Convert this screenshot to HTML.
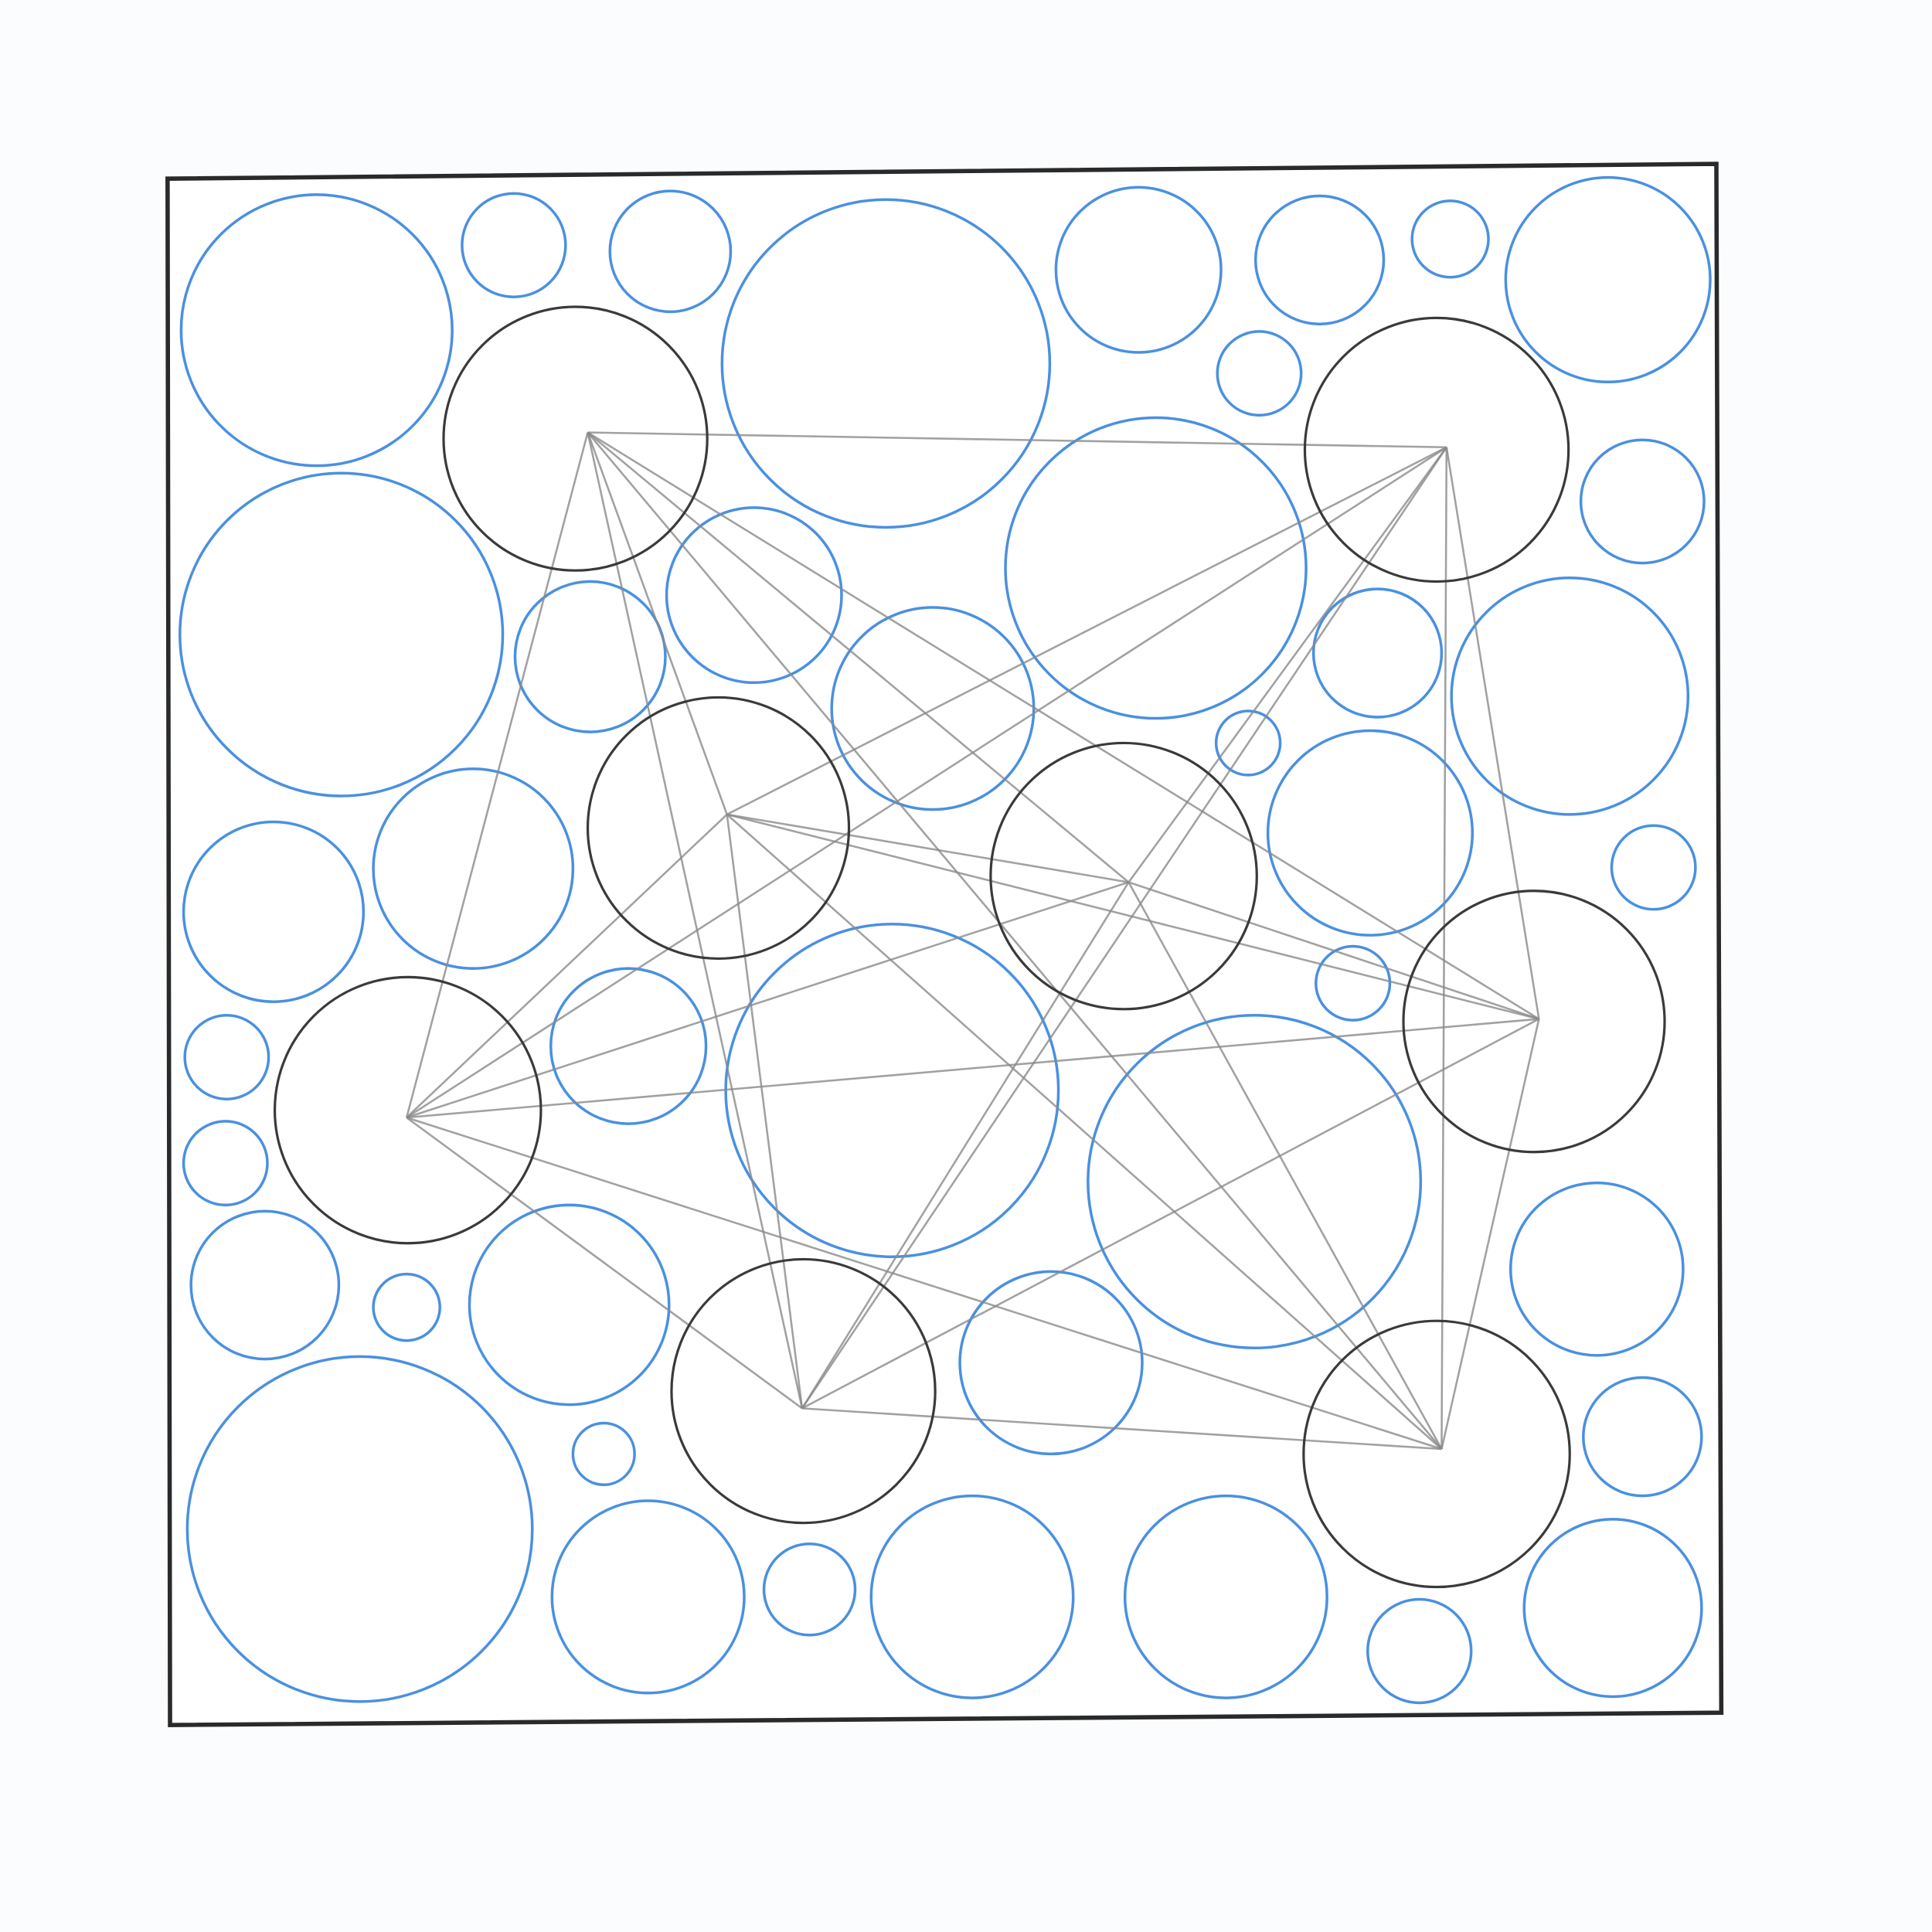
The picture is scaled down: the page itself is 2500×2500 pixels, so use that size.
<!DOCTYPE html>
<html><head><meta charset="utf-8"><style>
html,body{margin:0;padding:0;background:#fbfcfd;}
svg{display:block}
</style></head><body>
<svg id="chart" width="2500" height="2500" viewBox="0 0 1568 1568" xmlns="http://www.w3.org/2000/svg">
<rect width="1568" height="1568" fill="#fbfcfd"/>
<polygon points="136,145 1393,133 1397,1390 138,1400" fill="#fff" stroke="#2a2a2a" stroke-width="3.5"/>
<g id="blue"></g><g id="lines"></g><g id="dark"></g>
</svg>
<script>
const blueX=[257,417,544,719,924,1071,1177,1305,1022,1333,277,612,479,938,757,1118,1274,1013,1112,1342,384,222,184,183,510,724,1098,1018,215,330,462,853,1296,1333,292,490,526,657,789,995,1152,1309];
const blueY=[268,199,204,295,219,211,194,227,303,407,515,483,533,461,575,530,565,603,676,704,705,740,858,944,849,885,798,959,1043,1061,1059,1106,1030,1166,1241,1180,1296,1290,1296,1296,1340,1305];
const blueR=[110,42,49,133,67,52,31,83,34,50,131,71,61,122,82,52,96,26,83,34,81,73,34,34,63,135,30,135,60,27,81,74,70,48,140,25,78,37,82,82,42,72];
const darkX=[467,1166,583,912,1245,331,652,1166];
const darkY=[356,365,672,711,829,901,1129,1180];
const darkR=[107,107,106,108,106,108,107,108];
const vertX=[477,1174,590,916,1249,330,651,1170];
const vertY=[351,363,661,716,827,907,1143,1176];
const NS="http://www.w3.org/2000/svg";
const gB=document.getElementById('blue'),gD=document.getElementById('dark'),gL=document.getElementById('lines');
for(let i=0;i<blueX.length;i++){
 const c=document.createElementNS(NS,'circle');
 c.setAttribute('cx',blueX[i]);c.setAttribute('cy',blueY[i]);c.setAttribute('r',blueR[i]);
 c.setAttribute('fill','none');c.setAttribute('stroke','#4a90e0');c.setAttribute('stroke-width','2.2');
 
 
 gB.appendChild(c);
}
for(let i=0;i<vertX.length;i++)for(let j=i+1;j<vertX.length;j++){
 const l=document.createElementNS(NS,'line');
 l.setAttribute('x1',vertX[i]);l.setAttribute('y1',vertY[i]);l.setAttribute('x2',vertX[j]);l.setAttribute('y2',vertY[j]);
 l.setAttribute('stroke','#8a8a8a');l.setAttribute('stroke-width','1.6');l.setAttribute('opacity','0.8');
 
 
 gL.appendChild(l);
}
for(let i=0;i<darkX.length;i++){
 const c=document.createElementNS(NS,'circle');
 c.setAttribute('cx',darkX[i]);c.setAttribute('cy',darkY[i]);c.setAttribute('r',darkR[i]);
 c.setAttribute('fill','none');c.setAttribute('stroke','#3a3a3a');c.setAttribute('stroke-width','2');
 
 
 gD.appendChild(c);
}
</script>
</body></html>
